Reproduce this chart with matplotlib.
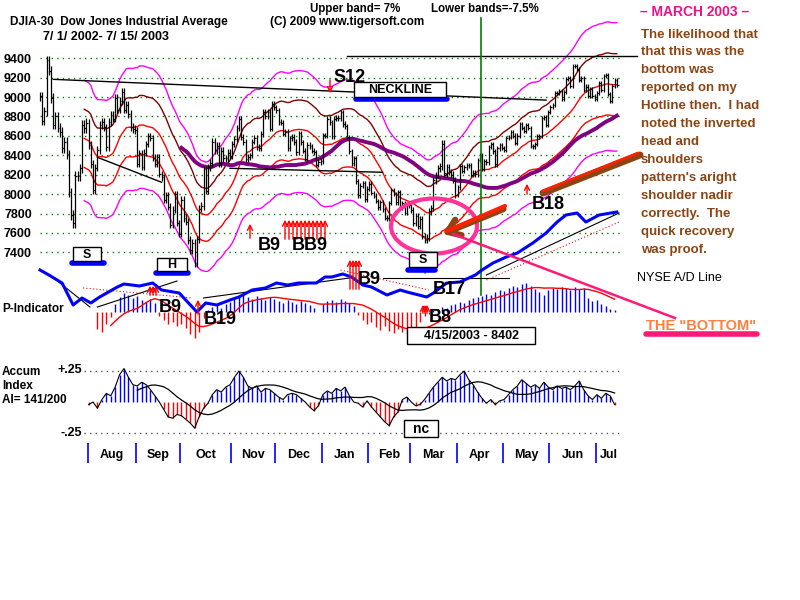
import numpy as np
import pandas as pd
import matplotlib
matplotlib.use("Agg")
import matplotlib.pyplot as plt
from matplotlib.lines import Line2D
from matplotlib.patches import Ellipse, Rectangle, FancyArrowPatch
from matplotlib.transforms import blended_transform_factory

plt.rcParams['font.family'] = ['Liberation Sans', 'DejaVu Sans']

# DJIA daily closes, one list per month (Jul 2002 .. Jul 15 2003)
closes_by_month = [
    [9007, 8758, 8854, 9379, 9274, 8992, 8714, 8801, 8685, 8640, 8474, 8542, 8409, 8019, 7784, 7702, 8191, 8187, 8264, 8712, 8680, 8736],
    [8506, 8313, 8043, 8274, 8456, 8712, 8745, 8688, 8482, 8743, 8818, 8778, 8990, 8872, 8957, 9053, 8872, 8919, 8825, 8694, 8670, 8663],
    [8308, 8425, 8283, 8427, 8519, 8602, 8581, 8379, 8312, 8380, 8207, 8172, 7942, 7986, 7872, 7683, 7841, 7997, 7701, 7592],
    [7938, 7755, 7717, 7528, 7422, 7501, 7286, 7534, 7850, 7877, 8255, 8036, 8275, 8322, 8538, 8450, 8494, 8317, 8444, 8368, 8368, 8427, 8397],
    [8518, 8571, 8678, 8771, 8586, 8537, 8358, 8386, 8398, 8542, 8579, 8487, 8474, 8623, 8845, 8805, 8849, 8676, 8931, 8896],
    [8862, 8743, 8737, 8623, 8645, 8473, 8574, 8589, 8538, 8433, 8627, 8535, 8447, 8364, 8511, 8493, 8448, 8432, 8304, 8332, 8341],
    [8607, 8601, 8773, 8740, 8595, 8776, 8784, 8785, 8842, 8723, 8697, 8586, 8442, 8318, 8369, 8131, 7989, 8088, 8110, 7945, 8053],
    [8109, 8013, 7985, 7929, 7864, 7920, 7843, 7758, 7749, 7908, 8041, 8000, 7915, 8018, 7858, 7909, 7806, 7884, 7891],
    [7837, 7704, 7775, 7673, 7740, 7568, 7524, 7552, 7821, 7859, 8141, 8194, 8265, 8286, 8521, 8214, 8280, 8229, 8201, 8145, 7992],
    [8069, 8285, 8240, 8277, 8300, 8298, 8197, 8221, 8203, 8351, 8402, 8257, 8337, 8328, 8485, 8515, 8440, 8306, 8471, 8502, 8480],
    [8454, 8582, 8588, 8644, 8604, 8531, 8604, 8726, 8679, 8647, 8713, 8679, 8493, 8491, 8516, 8594, 8601, 8781, 8793, 8711, 8850],
    [8897, 8923, 9039, 9041, 9062, 8980, 9054, 9183, 9196, 9117, 9318, 9323, 9293, 9179, 9200, 9072, 9109, 9011, 9079, 9011, 8985],
    [9040, 9142, 9070, 9216, 9223, 9036, 8959, 9119, 9177, 9128],
]
# typical daily bar range for each month
month_range = [160, 130, 110, 130, 100, 90, 90, 80, 110, 80, 70, 70, 70]

holidays = ['2002-07-04', '2002-09-02', '2002-11-28', '2002-12-25', '2003-01-01',
            '2003-01-20', '2003-02-17', '2003-04-18', '2003-05-26', '2003-07-04']
month_names = ['Aug', 'Sep', 'Oct', 'Nov', 'Dec', 'Jan', 'Feb', 'Mar', 'Apr', 'May', 'Jun', 'Jul']

# NYSE A/D line (arbitrary units) at trading-day index
ad_days = [0, 4, 10, 15, 19, 23, 27, 35, 38, 45, 51, 55, 63, 71, 75, 80, 86, 90, 96, 102,
           107, 112, 117, 125, 129, 132, 137, 141, 146, 150, 157, 163, 166, 175, 178, 184, 190, 197, 200, 205,
           211, 216, 223, 229, 234, 238, 243, 247, 253, 261]
ad_line = [50, 45, 37, 15, 22, 17, 23, 33, 36, 34, 37, 30, 27, 8, 17, 15, 20, 23, 30, 32,
           37, 35, 37, 37, 43, 43, 46, 43, 35, 33, 25, 30, 28, 23, 27, 37, 38, 45, 50, 57,
           63, 67, 77, 87, 98, 105, 107, 98, 105, 108]

# P-Indicator, every 2nd trading day starting at day 26
pind = [-17, -20, -12, -5,
        8, 15, 19, 17, 14, 16,
        12, 10, 13, 9,
        -4, -8, -12, -10, -14, -12, -16,
        -22, -26, -20,
        -6, 2,
        5, 7, 4, 8, 10,
        14, 17, 18, 15, 13, 16, 14, 12, 15, 13, 11, 9, 12, 10, 8, 11, 9, 7, 4, 0,
        8, 11, 12, 10, 13, 11, 9, 6,
        -3, -8, -12, -10, -15, -18, -14, -19, -21, -17,
        -20, -22, -18, -15, -10,
        -4, -2, 2,
        3, 5, 4, 7, 8, 10, 9, 12, 14, 15,
        16, 18, 17, 20, 22, 21, 24, 26, 25, 28, 29, 26,
        23, 20, 17, 22, 24, 23, 25, 24, 22, 25, 23, 24,
        14, 11, 12, 8, 6, 3, 2]

# Accumulation Index, every 2nd trading day starting at day 22
accum = [-0.02, 0.0, -0.05, 0.02, 0.07, 0.05, 0.12, 0.22, 0.27, 0.2,
         0.14, 0.13, 0.16, 0.14, 0.1, 0.05, 0.0, -0.06, -0.12, -0.13,
         -0.1, -0.11, -0.14, -0.17, -0.21, -0.12, -0.05, -0.01, 0.06, 0.1,
         0.08, 0.12, 0.14, 0.2, 0.25, 0.2, 0.13, 0.11, 0.13, 0.08,
         0.11, 0.1, 0.07, 0.04, 0.02, 0.06, 0.07, 0.06, 0.03, 0.0,
         -0.04, -0.07, -0.03, 0.06, 0.09, 0.07, 0.11, 0.09, 0.12, 0.05,
         0.0, -0.01, -0.04, 0.01, -0.04, -0.08, -0.12, -0.16, -0.19, -0.12,
         -0.08, 0.02, 0.04, 0.0, -0.03, -0.02, 0.02, 0.07, 0.12, 0.16,
         0.2, 0.17, 0.19, 0.18, 0.22, 0.25, 0.18, 0.14, 0.08, 0.03,
         -0.01, 0.02, -0.02, 0.01, 0.02, 0.06, 0.1, 0.13, 0.18, 0.15,
         0.12, 0.14, 0.11, 0.16, 0.12, 0.1, 0.13, 0.11, 0.12, 0.1,
         0.13, 0.17, 0.1, 0.05, 0.02, 0.06, 0.03, 0.07, 0.05, -0.02]

right_text = ["The likelihood that", "that this was the", "bottom was", "reported on my",
              "Hotline then.  I had", "noted the inverted", "head and", "shoulders",
              "pattern's aright", "shoulder nadir", "correctly.  The", "quick recovery",
              "was proof."]

# ---------------------------------------------------------------
closes = np.array(sum(closes_by_month, []), dtype=float)
n = len(closes)
dates = pd.bdate_range('2002-07-01', '2003-07-15')
dates = dates[~dates.isin(pd.to_datetime(holidays))][:n]
days = np.arange(n)
rng = np.repeat(month_range, [len(m) for m in closes_by_month]).astype(float)
prev = np.concatenate([[closes[0]], closes[:-1]])
highs = np.maximum(closes, prev) + 0.3 * rng
lows = np.minimum(closes, prev) - 0.3 * rng

s = pd.Series(closes)
ma21 = s.rolling(21).mean().values
ma65 = s.rolling(65).mean().values

W, H = 800, 600
fig = plt.figure(figsize=(8, 6), dpi=100)
fig.patch.set_facecolor('white')
XL = (-1.81, 271.5)


def px_axes(x0, y0, x1, y1):
    ax = fig.add_axes([x0 / W, 1 - y1 / H, (x1 - x0) / W, (y1 - y0) / H])
    ax.set_xlim(*XL)
    ax.patch.set_alpha(0)
    for sp in ax.spines.values():
        sp.set_visible(False)
    ax.set_xticks([])
    return ax


def fx(p):
    return p / W


def fy(p):
    return 1 - p / H


def ftext(x, y, txt, **kw):
    kw.setdefault('va', 'center')
    kw.setdefault('ha', 'left')
    return fig.text(fx(x), fy(y), txt, **kw)


def fline(xs, ys, **kw):
    fig.add_artist(Line2D([fx(v) for v in xs], [fy(v) for v in ys],
                          transform=fig.transFigure, **kw))


def farrow(x0, y0, x1, y1, **kw):
    fig.add_artist(FancyArrowPatch((fx(x0), fy(y0)), (fx(x1), fy(y1)),
                                   transform=fig.transFigure, **kw))


def fbox(x0, y0, x1, y1, txt, size=9, weight='bold'):
    fig.add_artist(Rectangle((fx(x0), fy(y1)), (x1 - x0) / W, (y1 - y0) / H,
                             transform=fig.transFigure, fc='white', ec='black', lw=1, zorder=5))
    ftext((x0 + x1) / 2, (y0 + y1) / 2 + 0.5, txt, ha='center', size=size,
          weight=weight, zorder=6)


# ---- price panel
axp = px_axes(36, 45, 640, 272)
axp.set_ylim(7197, 9537)
ticks = list(range(7400, 9401, 200))
axp.hlines(ticks, 0, 263, colors='#008000', linestyles=(0, (1, 3)), lw=1)
axp.set_yticks(ticks)
axp.set_yticklabels([str(t) for t in ticks], fontsize=9, fontweight='bold')
axp.tick_params(axis='y', length=0, pad=3)

axp.plot(days, ma21 * 1.07, color='#ff00ff', lw=1, clip_on=False)
axp.plot(days, ma21 * 1.035, color='#800000', lw=1)
axp.plot(days, ma21, color='#ff0000', lw=1)
axp.plot(days, ma21 * 0.965, color='#ff0000', lw=1)
axp.plot(days, ma21 * 0.925, color='#ff00ff', lw=1)
axp.plot(days, ma65, color='#800080', lw=2.8)
axp.vlines(days, lows, highs, colors='black', lw=0.9)
axp.hlines(closes, days, days + 0.8, colors='black', lw=0.9)

# trend lines
axp.plot([6, 229], [9183, 8969], color='black', lw=1)
axp.plot([139, 270], [9424, 9424], color='black', lw=1, clip_on=False)
axp.plot([26, 55], [8379, 8122], color='black', lw=1)
axp.plot([86, 155], [8266, 8225], color='black', lw=1)
axp.axvline(199.5, ymin=-0.1, ymax=1.12, color='#008000', lw=1.2, clip_on=False)

# ---- P-Indicator panel
axi = px_axes(36, 280, 640, 345)
axi.set_ylim(-33, 32)
axi.set_yticks([])
pdays = np.arange(26, 26 + 2 * len(pind), 2)
pv = np.array(pind, dtype=float)
axi.vlines(pdays, 0, pv, colors=np.where(pv >= 0, '#0000ff', '#ff0000'), lw=1)
axi.plot(pdays, pd.Series(pv).rolling(10, min_periods=4).mean(), color='#ff0000', lw=1)

# ---- A/D line overlay
axa = px_axes(36, 200, 640, 320)
axa.set_ylim(0, 120)
axa.set_yticks([])
axa.plot(ad_days, ad_line, color='#0000ff', lw=2.2, zorder=4)
axa.plot([4.5, 22.6], [45, 13], color='black', lw=0.8)
axa.plot([26, 62], [13, 39], color='black', lw=0.8)
axa.plot([74, 140], [22, 42], color='black', lw=0.8)
axa.plot([155, 212], [42, 42], color='black', lw=0.8)
axa.plot([202, 262], [45, 107], color='black', lw=0.8)
axa.plot([19.5, 69], [32, 22], color='red', lw=0.8, ls=(0, (1, 2)))
axa.plot([136, 176], [50, 30], color='red', lw=0.8, ls=(0, (1, 2)))
axa.plot([202, 262], [40, 98], color='red', lw=0.8, ls=(0, (1, 2)))

# ---- Accumulation index panel
axc = px_axes(36, 360, 640, 440)
axc.set_ylim(-0.306, 0.339)
axc.set_yticks([])
adays = np.arange(22, 22 + 2 * len(accum), 2)
av = np.array(accum)
axc.hlines([0.25, -0.25], 20, 262, colors='#555555', linestyles=(0, (1, 3)), lw=1)
axc.vlines(adays, 0, av, colors=np.where(av >= 0, '#0000ff', '#ff0000'), lw=1)
axc.plot(adays, av, color='black', lw=0.8)
axc.plot(adays, pd.Series(av).rolling(12, min_periods=12).mean(), color='black', lw=0.9)

# month ticks and labels
trans = blended_transform_factory(axc.transData, axc.transAxes)
month_id = dates.year * 12 + dates.month
first_idx = [i for i in range(1, n) if month_id[i] != month_id[i - 1]]
tick_x = [i - 0.5 for i in first_idx]
axc.vlines(tick_x, -0.2875, -0.0375, colors='#0000ff', lw=1.2, transform=trans, clip_on=False)
bounds = tick_x + [n + 1]
for k, name in enumerate(month_names):
    axc.text((bounds[k] + bounds[k + 1]) / 2, -0.1875, name, transform=trans,
             ha='center', va='center', fontsize=9, fontweight='bold')

# ---- header texts
ftext(10, 22, 'DJIA-30  Dow Jones Industrial Average', size=8.5, weight='bold')
ftext(43, 37, '7/ 1/ 2002- 7/ 15/ 2003', size=9, weight='bold')
ftext(310, 9, 'Upper band= 7%', size=8.3, weight='bold')
ftext(431, 9, 'Lower bands=-7.5%', size=8.3, weight='bold')
ftext(270, 22, '(C) 2009 www.tigersoft.com', size=8.5, weight='bold')
ftext(640, 12, '\u2013 MARCH 2003 \u2013', size=10, weight='bold', color='#ee1188')
for k, line in enumerate(right_text):
    ftext(641, 34.5 + k * 17.95, line, size=9.5, weight='bold', color='#8b4513')
ftext(637, 278, 'NYSE A/D Line', size=9)
ftext(646, 326, 'THE "BOTTOM"', size=10.5, weight='bold', color='#ff7f3f')
fline([646, 757], [334, 334], color='#ff1a75', lw=4, solid_capstyle='round')

ftext(2, 309, 'P-Indicator', size=8.5, weight='bold')
ftext(2, 372, 'Accum', size=8.5, weight='bold')
ftext(2, 386, 'Index', size=8.5, weight='bold')
ftext(2, 400, 'AI= 141/200', size=8.5, weight='bold')
ftext(82, 370, '+.25', size=9, weight='bold', ha='right')
ftext(82, 433, '-.25', size=9, weight='bold', ha='right')

# ---- pattern labels
fbox(73, 247, 101, 261, 'S')
fline([72, 104], [263, 263], color='#0000ff', lw=4, solid_capstyle='round')
fbox(157, 258, 187, 271, 'H')
fline([156, 188], [273, 273], color='#0000ff', lw=4, solid_capstyle='round')
fbox(409, 252, 437, 267, 'S')
fline([408, 435], [270, 270], color='#0000ff', lw=4, solid_capstyle='round')
fbox(354, 82, 446, 97, 'NECKLINE')
fline([356, 447], [99.5, 99.5], color='#0000ff', lw=4, solid_capstyle='round')
fbox(407, 327, 535, 344, '4/15/2003 - 8402', size=9)
fbox(404, 420, 438, 437, 'nc', size=10)

# ---- signals
sig = dict(arrowstyle='->', color='red', lw=1, mutation_scale=9)
ftext(333, 78, 'S12', size=13, weight='bold')
farrow(330, 77, 330, 96, **sig)
ftext(258, 245, 'B9', size=13, weight='bold')
farrow(250, 241, 250, 221, **sig)
for xx in range(285, 328, 4):
    farrow(xx, 242, xx, 217, **sig)
ftext(292, 245, 'BB9', size=13, weight='bold')
ftext(358, 279, 'B9', size=13, weight='bold')
for xx in (350, 353, 356, 359):
    farrow(xx, 292, xx, 257, **sig)
ftext(159, 307, 'B9', size=13, weight='bold')
for xx in (150, 153, 156):
    farrow(xx, 298, xx, 283, **sig)
ftext(204, 320, 'B19', size=13, weight='bold')
farrow(198, 317, 198, 297, **sig)
ftext(433, 289, 'B17', size=13, weight='bold')
farrow(425, 276, 425, 262, **sig)
ftext(429, 318, 'B8', size=13, weight='bold')
for xx in (423, 425, 427):
    farrow(xx, 316, xx, 302, **sig)
ftext(532, 204, 'B18', size=13, weight='bold')
farrow(527, 197, 527, 181, **sig)

# ---- highlight marks
fig.add_artist(Ellipse((fx(434), fy(226)), 86 / W, 55 / H, transform=fig.transFigure,
                       fill=False, ec='#ff3399', lw=3))
fline([453, 675], [234, 318], color='#ff1a75', lw=1.8)
fline([505, 447], [206, 231], color='#ff2000', lw=3, solid_capstyle='round')
farrow(506, 208, 440, 235, arrowstyle='->,head_width=0.5,head_length=0.7',
       color='#8b4513', lw=4.5, mutation_scale=12)
fline([543, 640], [193, 155], color='#8b4513', lw=5, solid_capstyle='round')
fline([543, 638], [191, 153], color='#ff2000', lw=2, solid_capstyle='round')

fig.savefig('out.png', dpi=100, facecolor='white')
